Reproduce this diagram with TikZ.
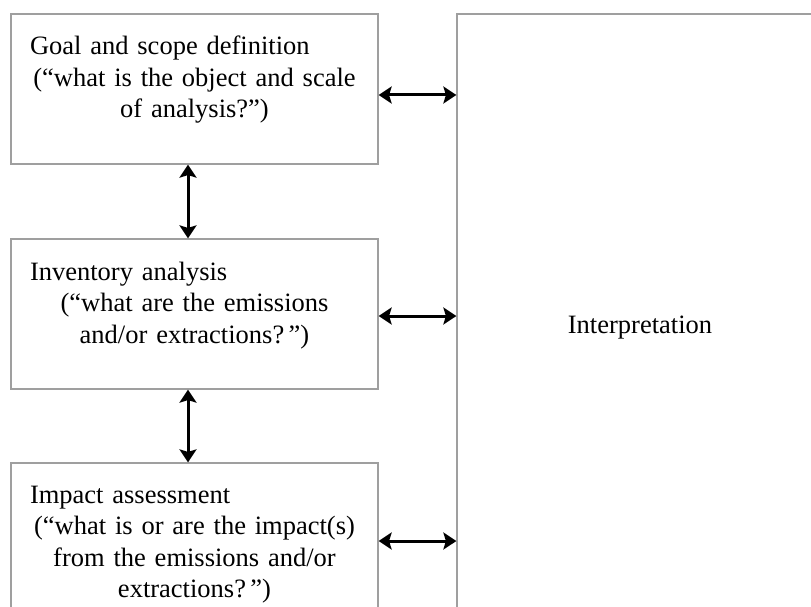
\documentclass[tikz,border=0pt]{standalone}
\usepackage{fontspec}
\setmainfont{Liberation Serif}
\usetikzlibrary{arrows.meta}
\usetikzlibrary{positioning}
\tikzset{x=1pt, y=-1pt,
stage/.style={ % Sets the properties for each phase box
draw=gray!75,
line width=1.2pt,
minimum width=367pt,
minimum height=150pt},
stagetext/.style={ % Text inside the boxes
anchor=base,
text width=329pt,
align=center,
inner sep=0pt,
font=\fontsize{26.5}{31.5}\selectfont},
link/.style={ % Double headed thick arrows
draw,
line width=3pt,
arrows={Stealth[length=13pt,width=17pt,inset=2.5pt]-Stealth[length=13pt,width=17pt,inset=2.5pt]}}}

\begin{document}
\begin{tikzpicture}
	\useasboundingbox (0,0) rectangle (811,607);
	\clip (0,0) rectangle (811,607);
	\node[stage] (goal) at (194.5,89) {};
	\node[stage] (inv) at (194.5,314) {};
	\node[stage] (imp) at (194.5,538) {};
	\node[stage, minimum width=366pt, minimum height=599pt] (interp) at (640,313.5) {};
	\node[stagetext] (goaltxt) at (194.5,55) {\makebox[\linewidth][l]{Goal and scope definition}\\ (“what is the object and scale\\ of analysis?”)};
	\node[stagetext] (invtxt) at (194.5,280) {\makebox[\linewidth][l]{Inventory analysis}\\ (“what are the emissions\\ and/or extractions?\,”)};
	\node[stagetext] (imptxt) at (194.5,503) {\makebox[\linewidth][l]{Impact assessment}\\ (“what is or are the impact(s)\\ from the emissions and/or\\ extractions?\,”)};
	\node[stagetext, text width=, anchor=base] (interptxt) at (640,333) {Interpretation};
	% vertical links
	\draw[link] ([xshift=-6.5pt]goal.south) -- ([xshift=-6.5pt]inv.north);
	\draw[link] ([xshift=-6.5pt]inv.south) -- ([xshift=-6.5pt]imp.north);
	% links to interpretation
	\draw[link] ([yshift=-6pt]goal.east) -- ([yshift=-6pt]goal.east -| interp.west);
	\draw[link] ([yshift=-2pt]inv.east) -- ([yshift=-2pt]inv.east -| interp.west);
	\draw[link] ([yshift=-3pt]imp.east) -- ([yshift=-3pt]imp.east -| interp.west);
\end{tikzpicture}
\end{document}
